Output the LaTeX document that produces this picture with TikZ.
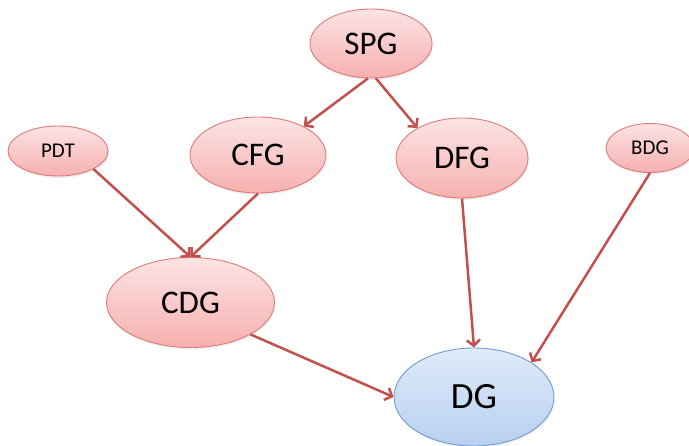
\documentclass[tikz,border=0pt]{standalone}
\usepackage{fontspec}
\setmainfont{Carlito}
\usetikzlibrary{shapes.geometric,arrows.meta,shadows}

\definecolor{pinktop}{RGB}{252,228,228}
\definecolor{pinkbot}{RGB}{246,176,175}
\definecolor{pinkline}{RGB}{222,122,120}
\definecolor{bluetop}{RGB}{223,235,250}
\definecolor{bluebot}{RGB}{184,208,240}
\definecolor{blueline}{RGB}{112,156,212}
\definecolor{arrowred}{RGB}{196,80,77}

\tikzset{
  bubble/.style={ellipse, inner sep=0pt, line width=0.9pt,
    draw=pinkline, top color=pinktop, bottom color=pinkbot,
    drop shadow={opacity=0.12, shadow xshift=0.8pt, shadow yshift=-2pt}},
  bluebubble/.style={bubble, draw=blueline, top color=bluetop, bottom color=bluebot},
  link/.style={draw=arrowred, line width=2.5pt,
    -{Straight Barb[length=6pt,width=13pt]}},
  bigtext/.style={font=\fontsize{33}{38}\selectfont},
  smalltext/.style={font=\fontsize{21}{25}\selectfont}
}

\begin{document}
\begin{tikzpicture}[x=1pt,y=-1pt]
  \useasboundingbox[fill=white] (0,0) rectangle (689,446);

  \node[bubble, bigtext, minimum width=122pt, minimum height=69pt] (SPG) at (371,43.5) {SPG};
  \node[bubble, bigtext, minimum width=136pt, minimum height=76pt] (CFG) at (258,155) {CFG};
  \node[bubble, bigtext, minimum width=132pt, minimum height=80pt] (DFG) at (462,158) {DFG};
  \node[bubble, smalltext, minimum width=100pt, minimum height=50pt] (PDT) at (58,151) {PDT};
  \node[bubble, smalltext, minimum width=88pt, minimum height=49pt] (BDG) at (650,148) {BDG};
  \node[bubble, bigtext, minimum width=168pt, minimum height=90pt] (CDG) at (190.5,302.5) {CDG};
  \node[bluebubble, font=\fontsize{37}{42}\selectfont, minimum width=160pt, minimum height=98pt] (DG) at (474,397) {DG};

  \draw[link] (SPG.265) -- (CFG.32);
  \draw[link] (SPG.278) -- (DFG.146);
  \draw[link] (PDT.333) -- (CDG.north);
  \draw[link] (CFG.south) -- (CDG.north);
  \draw[link] (DFG.south) -- (DG.north);
  \draw[link] (BDG.south) -- (DG.31);
  \draw[link] (CDG.332) -- (DG.west);
\end{tikzpicture}
\end{document}
